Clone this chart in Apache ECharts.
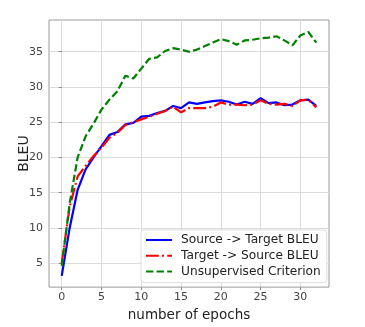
<!DOCTYPE html>
<html>
<head>
<meta charset="utf-8">
<script src="https://cdn.jsdelivr.net/npm/echarts@6/dist/echarts.min.js"></script>
<style>
  html, body { margin: 0; padding: 0; background: #fff; }
  #chart { width: 365px; height: 327px; }
</style>
</head>
<body>
<div id="chart"></div>
<script>
// values
const epochs = [0, 1, 2, 3, 4, 5, 6, 7, 8, 9, 10, 11, 12, 13, 14, 15, 16,
  17, 18, 19, 20, 21, 22, 23, 24, 25, 26, 27, 28, 29, 30, 31, 32];
const sourceTarget = [3.2, 10.0, 15.4, 18.3, 20.0, 21.6, 23.2, 23.6, 24.7, 24.9, 25.8, 25.9, 26.3,
  26.6, 27.3, 27.0, 27.8, 27.6, 27.8, 28.0, 28.1, 27.9, 27.5, 27.9, 27.6, 28.4, 27.7, 27.8,
  27.4, 27.5, 28.1, 28.2, 27.3];
const targetSource = [5.0, 13.0, 17.3, 18.8, 20.2, 21.4, 22.8, 23.5, 24.6, 25.0, 25.4, 25.8, 26.2,
  26.6, 27.2, 26.4, 27.0, 27.0, 27.0, 27.2, 27.8, 27.5, 27.5, 27.4, 27.5, 28.1, 27.6, 27.5,
  27.6, 27.3, 28.1, 28.2, 27.1];
const unsupervised = [4.6, 13.5, 20.0, 23.0, 24.8, 26.8, 28.2, 29.4, 31.6, 31.2, 32.6, 34.0, 34.2,
  35.1, 35.5, 35.3, 35.0, 35.3, 35.8, 36.3, 36.8, 36.5, 36.0, 36.6, 36.7, 36.9, 37.0, 37.2,
  36.6, 35.9, 37.3, 37.8, 36.3];
const xTicks = [0, 5, 10, 15, 20, 25, 30];
const yTicks = [5, 10, 15, 20, 25, 30, 35];

const pairs = (ys) => epochs.map((e, i) => [e, ys[i]]);

const chart = echarts.init(document.getElementById("chart"));

const tickColor = "#444";
const gridColor = "#dcdcdc";

chart.setOption({
  animation: false,
  grid: {
    left: 49, right: 36, top: 20, bottom: 34,
    show: true, borderColor: "#999", borderWidth: 1, backgroundColor: "#fff"
  },
  legend: {
    orient: "vertical",
    left: 141, top: 230,
    padding: [4, 6, 5, 4],
    itemWidth: 26, itemHeight: 14, itemGap: 3.8,
    itemStyle: { opacity: 0 },
    backgroundColor: "#fff",
    borderColor: "#ddd", borderWidth: 1, borderRadius: 3,
    textStyle: { fontFamily: "DejaVu Sans", fontSize: 12.2, color: "#222", padding: [0, 0, 0, 4] },
    data: ["Source -> Target BLEU", "Target -> Source BLEU", "Unsupervised Criterion"]
  },
  xAxis: {
    type: "value",
    min: -1.6, max: 33.6,
    name: "number of epochs",
    nameLocation: "middle",
    nameGap: 12,
    nameTextStyle: { fontFamily: "DejaVu Sans", fontSize: 13.5, color: "#222", verticalAlign: "top" },
    axisLine: { show: false },
    axisTick: { show: true, length: 3, customValues: xTicks, lineStyle: { color: "#888" } },
    axisLabel: { customValues: xTicks, fontFamily: "DejaVu Sans", fontSize: 11, color: tickColor, margin: 5 },
    splitLine: { show: true, lineStyle: { color: gridColor, width: 1 } }
  },
  yAxis: {
    type: "value",
    min: 1.6, max: 39.5,
    name: "BLEU",
    nameLocation: "middle",
    nameGap: 18,
    nameMoveOverlap: false,
    nameTextStyle: { fontFamily: "DejaVu Sans", fontSize: 14, color: "#222" },
    axisLine: { show: false },
    axisTick: { show: true, length: 3, customValues: yTicks, lineStyle: { color: "#888" } },
    axisLabel: { customValues: yTicks, fontFamily: "DejaVu Sans", fontSize: 11, color: tickColor, margin: 6 },
    splitLine: { show: true, lineStyle: { color: gridColor, width: 1 } }
  },
  series: [
    {
      name: "Source -> Target BLEU",
      type: "line",
      data: pairs(sourceTarget),
      symbol: "none",
      lineStyle: { color: "#0000ff", width: 2.2 },
      itemStyle: { color: "#0000ff" },
      z: 3
    },
    {
      name: "Target -> Source BLEU",
      type: "line",
      data: pairs(targetSource),
      symbol: "none",
      lineStyle: { color: "#ff0000", width: 2.2, type: [12.8, 3.2, 2, 3.2] },
      itemStyle: { color: "#ff0000" },
      z: 4
    },
    {
      name: "Unsupervised Criterion",
      type: "line",
      data: pairs(unsupervised),
      symbol: "none",
      lineStyle: { color: "#008000", width: 2.2, type: [7.4, 3.2] },
      itemStyle: { color: "#008000" },
      z: 5
    }
  ]
});
</script>
</body>
</html>
